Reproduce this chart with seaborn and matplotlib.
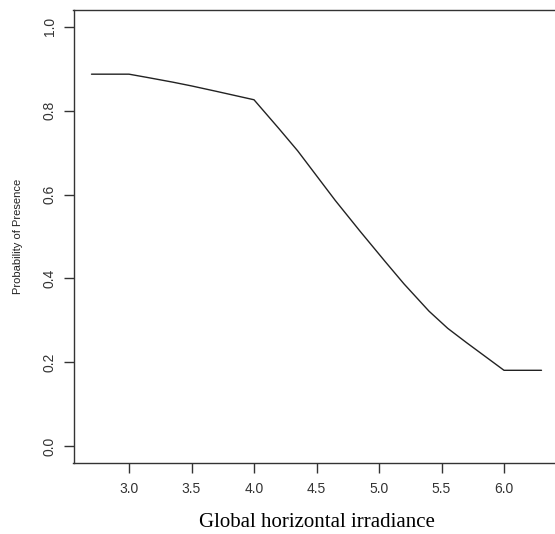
import matplotlib
matplotlib.use("Agg")
import matplotlib.pyplot as plt
import seaborn as sns
import pandas as pd

irradiance = [2.7, 3.0, 3.15, 3.35, 3.5, 3.7, 4.0, 4.2, 4.35, 4.5, 4.65, 4.85, 5.05,
              5.2, 5.4, 5.55, 5.7, 5.85, 6.0, 6.3]
probability = [0.887, 0.887, 0.879, 0.868, 0.859, 0.846, 0.826, 0.757, 0.704, 0.645,
               0.586, 0.512, 0.440, 0.387, 0.322, 0.281, 0.247, 0.214, 0.181, 0.181]
x_ticks = [3.0, 3.5, 4.0, 4.5, 5.0, 5.5, 6.0]
y_ticks = [0.0, 0.2, 0.4, 0.6, 0.8, 1.0]

sns.set_style("white")
plt.rcParams['font.family'] = ['Liberation Sans', 'DejaVu Sans']

df = pd.DataFrame({"x": irradiance, "y": probability})

fig = plt.figure(figsize=(5.55, 5.34), dpi=100)
ax = fig.add_axes([73.5 / 555, 71 / 534, 486 / 555, 453 / 534])
sns.lineplot(data=df, x="x", y="y", ax=ax, color="#222222", linewidth=1.0)

ax.set_xlim(2.556, 6.444)
ax.set_ylim(-0.04, 1.04)
ax.set_xticks(x_ticks)
ax.set_xticklabels([f"{v:.1f}" for v in x_ticks], fontsize=10, color="#333333")
ax.set_yticks(y_ticks)
ax.set_yticklabels([f"{v:.1f}" for v in y_ticks], fontsize=10, color="#333333",
                   rotation=90, va="center")
ax.tick_params(axis="x", direction="out", length=7, width=1, color="#333333",
               bottom=True, pad=7)
ax.tick_params(axis="y", direction="out", length=7, width=1, color="#333333",
               left=True, pad=5)
for s in ax.spines.values():
    s.set_color("#333333")
    s.set_linewidth(1.0)

ax.set_xlabel("Global horizontal irradiance", family=["Liberation Serif"], fontsize=15,
              color="black", labelpad=12)
ax.set_ylabel("Probability of Presence", fontsize=8, color="#222222", labelpad=14)

fig.savefig("out.png", dpi=100)
